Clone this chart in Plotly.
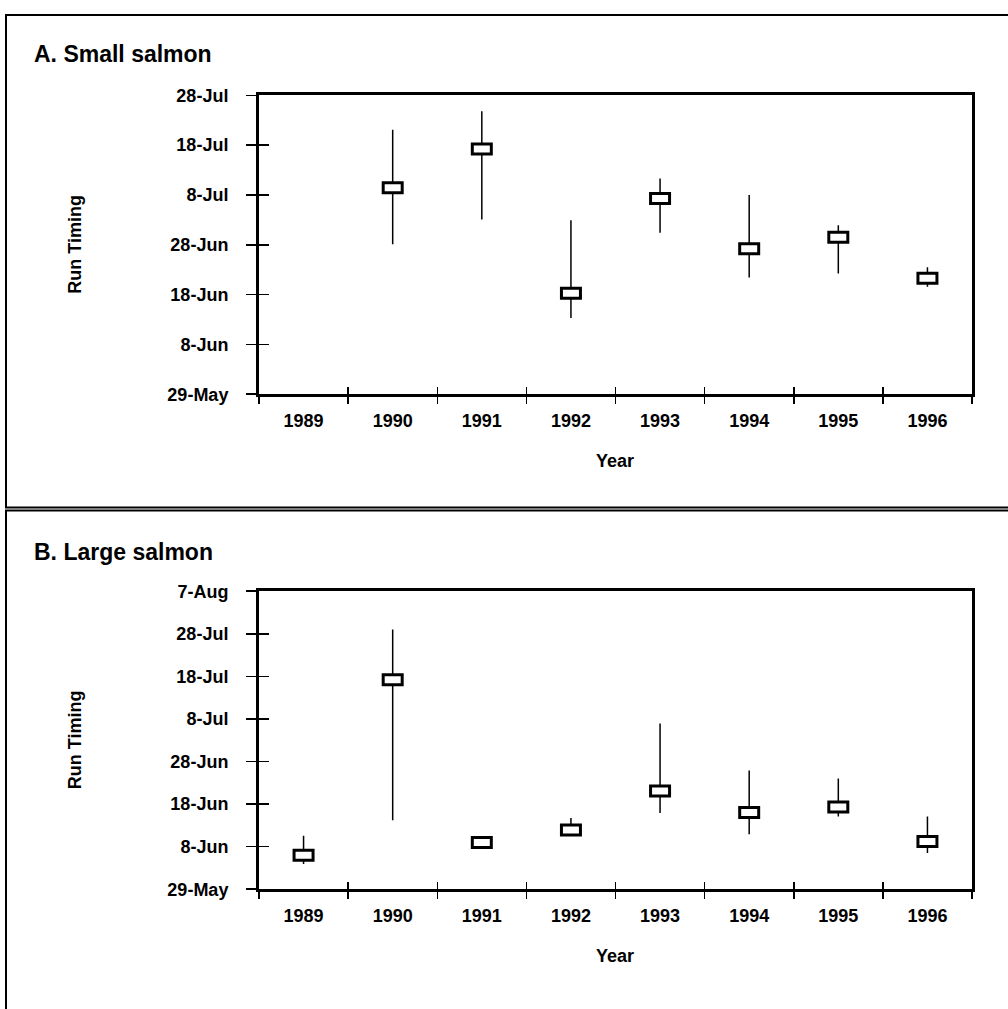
import plotly.graph_objects as go

# ---------------- data ----------------
years = ["1989", "1990", "1991", "1992", "1993", "1994", "1995", "1996"]

# Panel A: small salmon (no 1989 data)
small_hi = [None, "2000-07-21 02:00", "2000-07-24 19:00", "2000-07-02 22:00", "2000-07-11 07:00",
            "2000-07-08 00:00", "2000-07-01 22:00", "2000-06-23 12:00"]
small_mid = [None, "2000-07-09 10:00", "2000-07-17 05:00", "2000-06-18 07:00", "2000-07-07 07:00",
             "2000-06-27 05:00", "2000-06-29 12:00", "2000-06-21 07:00"]
small_lo = [None, "2000-06-28 02:00", "2000-07-03 02:00", "2000-06-13 07:00", "2000-06-30 10:00",
            "2000-06-21 10:00", "2000-06-22 05:00", "2000-06-19 14:00"]

# Panel B: large salmon
large_hi = ["2000-06-10 14:00", "2000-07-29 00:00", "2000-06-09 19:00", "2000-06-14 17:00",
            "2000-07-06 22:00", "2000-06-25 22:00", "2000-06-24 00:00", "2000-06-15 02:00"]
large_mid = ["2000-06-06 00:00", "2000-07-17 05:00", "2000-06-09 00:00", "2000-06-11 22:00",
             "2000-06-21 02:00", "2000-06-16 00:00", "2000-06-17 07:00", "2000-06-09 05:00"]
large_lo = ["2000-06-03 22:00", "2000-06-14 05:00", "2000-06-08 07:00", "2000-06-10 19:00",
            "2000-06-15 22:00", "2000-06-10 22:00", "2000-06-15 02:00", "2000-06-06 12:00"]

# y-axis ticks
small_tickvals = ["2000-05-29", "2000-06-08", "2000-06-18", "2000-06-28", "2000-07-08", "2000-07-18", "2000-07-28"]
small_ticktext = ["29-May", "8-Jun", "18-Jun", "28-Jun", "8-Jul", "18-Jul", "28-Jul"]
large_tickvals = ["2000-05-29", "2000-06-08", "2000-06-18", "2000-06-28", "2000-07-08", "2000-07-18",
                  "2000-07-28", "2000-08-07"]
large_ticktext = ["29-May", "8-Jun", "18-Jun", "28-Jun", "8-Jul", "18-Jul", "28-Jul", "7-Aug"]

titles = ["A. Small salmon", "B. Large salmon"]
y_title = "Run Timing"
x_title = "Year"

# ---------------- figure ----------------
W, H = 1008, 1009
FONT = "Arial, Liberation Sans, sans-serif"

fig = go.Figure()


def whisker_xy(hi, lo):
    xs, ys = [], []
    for yr, h, l in zip(years, hi, lo):
        xs += [yr, yr, None]
        ys += [l, h, None]
    return xs, ys


panels = [
    dict(hi=small_hi, mid=small_mid, lo=small_lo, tv=small_tickvals, tt=small_ticktext,
         xa="x", ya="y", xo="x3", yo="y3", top=87, bot=392, title_y=45, frame=(5, 507.5)),
    dict(hi=large_hi, mid=large_mid, lo=large_lo, tv=large_tickvals, tt=large_ticktext,
         xa="x2", ya="y2", xo="x4", yo="y4", top=593, bot=897, title_y=553, frame=(510.5, 1060)),
]

x_dom = [259 / W, 972 / W]
shapes = []
annotations = []

for k, p in enumerate(panels):
    xs, ys = whisker_xy(p["hi"], p["lo"])
    fig.add_trace(go.Scatter(x=xs, y=ys, mode="lines", line=dict(color="black", width=1.5),
                             xaxis=p["xa"], yaxis=p["ya"], hoverinfo="skip", showlegend=False))
    # dummy trace for overlay (inner tick) axes
    fig.add_trace(go.Scatter(x=years, y=[None] * len(years), mode="markers",
                             marker=dict(opacity=0), xaxis=p["xo"], yaxis=p["yo"],
                             hoverinfo="skip", showlegend=False))
    for i, m in enumerate(p["mid"]):
        if m is None:
            continue
        shapes.append(dict(type="rect", xref=p["xa"], yref=p["ya"],
                           xsizemode="pixel", xanchor=i, x0=-9.5, x1=9.5,
                           ysizemode="pixel", yanchor=m, y0=-5, y1=5,
                           line=dict(color="black", width=3), fillcolor="white", layer="above"))

    y_dom = [1 - p["bot"] / H, 1 - p["top"] / H]
    n = k + 1
    sfx = "" if n == 1 else str(n)
    osfx = str(n + 2)
    xcommon = dict(type="category", categoryorder="array", categoryarray=years,
                   range=[-0.5, len(years) - 0.5], tickson="boundaries", domain=x_dom,
                   tickcolor="black", tickwidth=1.5, showgrid=False, zeroline=False, fixedrange=True)
    ycommon = dict(type="date", range=[p["tv"][0], p["tv"][-1]], tickvals=p["tv"], ticktext=p["tt"],
                   domain=y_dom, tickcolor="black", tickwidth=1.5, showgrid=False, zeroline=False,
                   fixedrange=True)
    fig.update_layout(**{
        "xaxis" + sfx: dict(**xcommon, anchor="y" + sfx, ticks="outside", ticklen=7,
                            showline=True, linecolor="black", linewidth=3, mirror=True,
                            tickfont=dict(family=FONT, size=18, color="black", weight="bold"),
                            ticklabelstandoff=8),
        "yaxis" + sfx: dict(**ycommon, anchor="x" + sfx, ticks="outside", ticklen=10,
                            showline=True, linecolor="black", linewidth=3, mirror=True,
                            tickfont=dict(family=FONT, size=18, color="black", weight="bold"),
                            ticklabelstandoff=14),
        "xaxis" + osfx: dict(**xcommon, anchor="y" + osfx, overlaying="x" + sfx, ticks="inside",
                             ticklen=7, showticklabels=False, showline=False),
        "yaxis" + osfx: dict(**ycommon, anchor="x" + osfx, overlaying="y" + sfx, ticks="inside",
                             ticklen=10, showticklabels=False, showline=False),
    })

    # panel frame
    shapes.append(dict(type="rect", xref="paper", yref="paper", x0=6 / W, x1=1.01,
                       y0=1 - p["frame"][1] / H, y1=1 - p["frame"][0] / H,
                       line=dict(color="black", width=2), fillcolor="rgba(0,0,0,0)", layer="below"))
    # panel title
    annotations.append(dict(text=titles[k], x=32 / W, y=1 - p["title_y"] / H, xref="paper", yref="paper",
                            xanchor="left", yanchor="middle", showarrow=False,
                            font=dict(family=FONT, size=23, color="black", weight="bold")))
    # y title
    annotations.append(dict(text=y_title, x=75 / W, y=1 - (p["top"] + p["bot"]) / 2 / H,
                            xref="paper", yref="paper", textangle=-90, xanchor="center",
                            yanchor="middle", showarrow=False,
                            font=dict(family=FONT, size=18, color="black", weight="bold")))
    # x title
    annotations.append(dict(text=x_title, x=615 / W, y=1 - (p["bot"] + 68) / H,
                            xref="paper", yref="paper", xanchor="center", yanchor="middle",
                            showarrow=False,
                            font=dict(family=FONT, size=18, color="black", weight="bold")))

fig.update_layout(width=W, height=H, margin=dict(l=0, r=0, t=0, b=0),
                  paper_bgcolor="white", plot_bgcolor="white", showlegend=False,
                  shapes=shapes, annotations=annotations)

fig.write_html("out.html", config={"displayModeBar": False, "staticPlot": True},
               post_script="document.body.style.margin='0';document.body.style.overflow='hidden';")
